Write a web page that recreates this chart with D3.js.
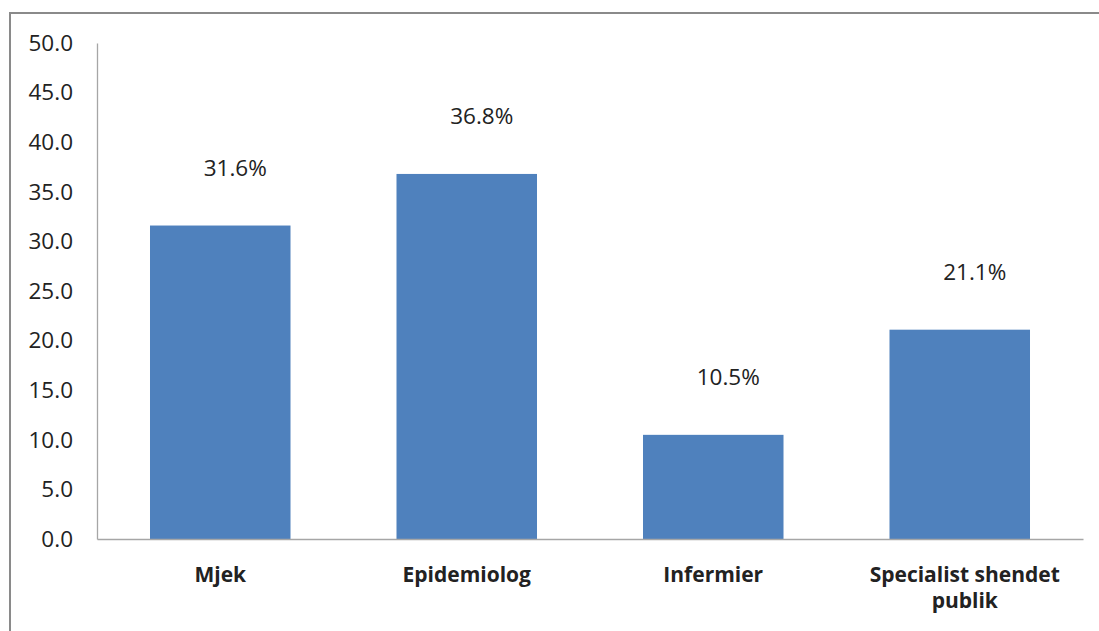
<!DOCTYPE html>
<html><head><meta charset="utf-8">
<script src="https://cdn.jsdelivr.net/npm/d3@7"></script>
<style>
html,body{margin:0;padding:0;background:#fff;overflow:hidden}
text{font-family:"Open Sans",sans-serif;fill:#222}
</style></head>
<body>
<svg id="chart" width="1099" height="631"></svg>
<script>
const categories = ["Mjek", "Epidemiolog", "Infermier", "Specialist shendet publik"];
const values = [31.6, 36.8, 10.5, 21.1];
const valueLabels = ["31.6%", "36.8%", "10.5%", "21.1%"];
const yTicks = [0, 5, 10, 15, 20, 25, 30, 35, 40, 45, 50];

const svg = d3.select("#chart");
const mLeft = 97, mRight = 1083, mTop = 43, mBottom = 539;

// outer frame
svg.append("rect").attr("x", 10).attr("y", 13).attr("width", 1200).attr("height", 800)
  .attr("fill", "none").attr("stroke", "#8a8a8a").attr("stroke-width", 2);

const x = d3.scaleBand().domain(categories).range([mLeft, mRight]).paddingInner(0.43).paddingOuter(0.215);
const y = d3.scaleLinear().domain([0, 50]).range([mBottom, mTop]);

// y axis
const yAxis = svg.append("g").attr("transform", `translate(${mLeft},0)`)
  .call(d3.axisLeft(y).tickValues(yTicks).tickFormat(d3.format(".1f")).tickSize(0).tickPadding(24));
yAxis.select(".domain").attr("stroke", "#a6a6a6").attr("stroke-width", 1.3);
yAxis.selectAll("text").style("font-size", "22.5px").style("font-family", "Open Sans").attr("fill", "#222");

// bars
svg.append("g").selectAll("rect").data(values).join("rect")
  .attr("x", (d, i) => x(categories[i]))
  .attr("y", d => y(d))
  .attr("width", x.bandwidth())
  .attr("height", d => y(0) - y(d))
  .attr("fill", "#4F81BD");

// x axis
const xAxis = svg.append("g").attr("transform", `translate(0,${mBottom})`)
  .call(d3.axisBottom(x).tickSize(0).tickFormat(""));
xAxis.select(".domain").attr("stroke", "#a6a6a6").attr("stroke-width", 1.3);

// category labels (wrapped)
const wrapped = {"Specialist shendet publik": ["Specialist shendet", "publik"]};
const catG = svg.append("g");
categories.forEach(c => {
  const lines = wrapped[c] || [c];
  const cx = x(c) + x.bandwidth() / 2 + (lines.length > 1 ? 5 : 0);
  const t = catG.append("text").attr("text-anchor", "middle")
    .attr("x", cx)
    .attr("y", mBottom + 43)
    .style("font-size", "21px").style("font-weight", "bold");
  lines.forEach((l, i) => t.append("tspan").attr("x", cx)
    .attr("dy", i === 0 ? 0 : 26).text(l));
});

// value labels
svg.append("g").selectAll("text").data(values).join("text")
  .attr("text-anchor", "middle")
  .attr("x", (d, i) => x(categories[i]) + x.bandwidth() / 2 + 15)
  .attr("y", d => y(d) - 50)
  .style("font-size", "22.5px")
  .text((d, i) => valueLabels[i]);
</script>
</body></html>
